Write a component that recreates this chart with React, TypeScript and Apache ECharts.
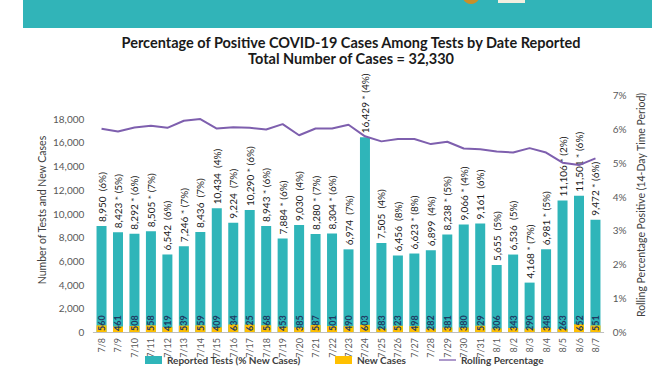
import React, { useEffect, useRef } from "react";
import * as echarts from "echarts";

const dates = ["7/8","7/9","7/10","7/11","7/12","7/13","7/14","7/15","7/16","7/17","7/18","7/19","7/20","7/21","7/22","7/23","7/24","7/25","7/26","7/27","7/28","7/29","7/30","7/31","8/1","8/2","8/3","8/4","8/5","8/6","8/7"];
const reportedTests = [8950,8423,8292,8505,6542,7246,8436,10434,9224,10290,8943,7884,9030,8280,8304,6974,16429,7505,6456,6623,6899,8238,9066,9161,5655,6536,4168,6981,11106,11501,9472];
const newCases = [560,461,508,558,419,539,559,409,634,625,568,453,385,587,501,490,603,283,523,498,282,381,380,529,306,343,290,348,263,652,551];
const pctNewCases = [6,5,6,7,6,7,7,4,7,6,6,6,4,7,6,7,4,4,8,8,4,5,4,6,5,5,7,5,2,6,6];
const asterisk = [false,true,true,true,false,true,false,false,false,true,true,true,false,true,true,false,true,false,false,true,false,true,true,false,false,false,true,true,true,true,true];
const rollingPct = [6.0,5.92,6.04,6.09,6.03,6.24,6.29,6.01,6.05,6.03,5.98,6.14,5.81,6.01,6.01,6.12,5.78,5.63,5.70,5.70,5.55,5.62,5.42,5.40,5.33,5.30,5.43,5.30,5.0,4.93,5.13];
const leftTicks = { min: 0, max: 20000, interval: 2000 };
const rightTicks = { min: 0, max: 7, interval: 1 };

const FONT = "Lato, 'Open Sans', sans-serif";
const TEAL = "#2fb5b9";
const YELLOW = "#ffc000";
const PURPLE = "#7e5fae";

export default function App() {
  const ref = useRef<HTMLDivElement>(null);
  useEffect(() => {
    if (!ref.current) return;
    const chart = echarts.init(ref.current, null, { renderer: "svg" });
    const fmt = (v: number) => v.toLocaleString("en-US");
    const legendText = { fontFamily: FONT, fontSize: 10, fontWeight: "bold", color: "#404040" };
    chart.setOption({
      animation: false,
      textStyle: { fontFamily: FONT },
      grid: { left: 93.3, right: 68.3, top: 95, bottom: 40, containLabel: false },
      graphic: [
        { type: "rect", shape: { x: 23, y: 0, width: 629, height: 28 }, style: { fill: "#31b4b8" } },
        { type: "circle", shape: { cx: 471, cy: -5, r: 9 }, style: { fill: "#c8902a" } },
        { type: "rect", shape: { x: 498, y: -4, width: 27, height: 7 }, style: { fill: "#f2efe0" } },
        { type: "text", x: 351, y: 42, style: { text: "Percentage of Positive COVID-19 Cases Among Tests by Date Reported", font: `bold 14.5px ${FONT}`, fill: "#1a1a1a", align: "center", verticalAlign: "middle" } },
        { type: "text", x: 351, y: 58, style: { text: "Total Number of Cases = 32,330", font: `bold 14.5px ${FONT}`, fill: "#1a1a1a", align: "center", verticalAlign: "middle" } },
        { type: "text", x: 42, y: 210, rotation: Math.PI / 2, style: { text: "Number of Tests and New Cases", font: `10.5px ${FONT}`, fill: "#404040", align: "center", verticalAlign: "middle" } },
        { type: "text", x: 641, y: 205, rotation: Math.PI / 2, style: { text: "Rolling Percentage Positive (14-Day Time Period)", font: `10.5px ${FONT}`, fill: "#404040", align: "center", verticalAlign: "middle" } },
      ],
      legend: [
        { bottom: 2, left: 140, itemWidth: 17, itemHeight: 8, textStyle: legendText, data: [{ name: "Reported Tests (% New Cases)", icon: "rect" }] },
        { bottom: 2, left: 330, itemWidth: 17, itemHeight: 8, textStyle: legendText, data: [{ name: "New Cases", icon: "rect" }] },
        { bottom: 2, left: 434, itemWidth: 17, itemHeight: 8, textStyle: legendText, data: [{ name: "Rolling Percentage", icon: "path://M0,4 L20,4 L20,5.5 L0,5.5 Z" }] },
      ],
      xAxis: {
        type: "category",
        data: dates,
        axisLine: { lineStyle: { color: "#bfbfbf" } },
        axisTick: { show: false },
        axisLabel: { rotate: 90, interval: 0, fontSize: 9, color: "#595959", margin: 6, fontFamily: FONT },
      },
      yAxis: [
        {
          type: "value", ...leftTicks,
          splitLine: { show: false },
          axisLine: { show: false },
          axisTick: { show: false },
          axisLabel: { showMaxLabel: false, fontSize: 10, color: "#595959", margin: 9, fontFamily: FONT, formatter: (v: number) => fmt(v) },
        },
        {
          type: "value", ...rightTicks,
          splitLine: { show: false },
          axisLine: { show: false },
          axisTick: { show: false },
          axisLabel: { fontSize: 10, color: "#595959", margin: 9, fontFamily: FONT, formatter: "{value}%" },
        },
      ],
      series: [
        {
          name: "Reported Tests (% New Cases)",
          type: "bar",
          data: reportedTests,
          barWidth: 10,
          itemStyle: { color: TEAL },
          label: {
            show: true,
            position: "top",
            rotate: 90,
            align: "left",
            verticalAlign: "middle",
            distance: 4,
            fontSize: 10,
            fontFamily: FONT,
            color: "#1a1a1a",
            formatter: (p: any) => {
              const i = p.dataIndex;
              return `${fmt(reportedTests[i])}${asterisk[i] ? " * " : "  "}(${pctNewCases[i]}%)`;
            },
          },
        },
        {
          name: "New Cases",
          type: "bar",
          data: newCases,
          barWidth: 10,
          barGap: "-100%",
          itemStyle: { color: YELLOW },
          label: {
            show: true,
            position: "insideBottom",
            rotate: 90,
            align: "left",
            verticalAlign: "middle",
            distance: 1,
            fontSize: 9,
            fontWeight: "bold",
            fontFamily: FONT,
            color: "#1f3b63",
          },
        },
        {
          name: "Rolling Percentage",
          type: "line",
          yAxisIndex: 1,
          data: rollingPct,
          showSymbol: false,
          symbol: "none",
          lineStyle: { color: PURPLE, width: 2 },
          itemStyle: { color: PURPLE },
        },
      ],
    });
    return () => chart.dispose();
  }, []);
  return <div ref={ref} style={{ width: 672, height: 372, position: "absolute", left: 0, top: 0 }} />;
}
